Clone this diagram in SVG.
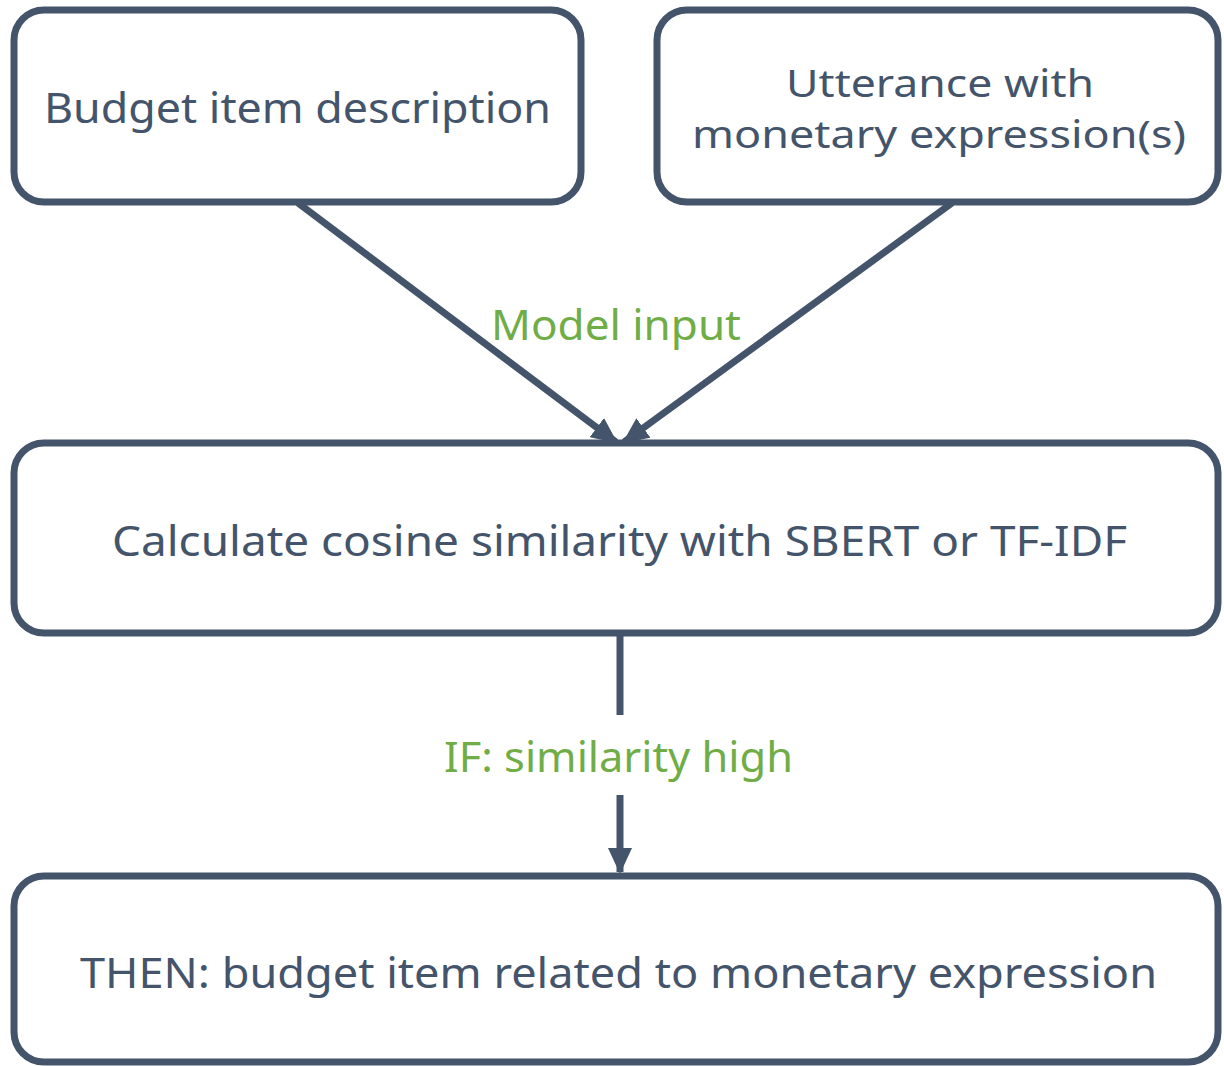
<svg xmlns="http://www.w3.org/2000/svg" width="1224" height="1066" viewBox="0 0 1224 1066">
<defs>
<style>
.box{fill:#fff;stroke:#44546a;stroke-width:7}
.t{font-family:"Noto Sans","Liberation Sans",sans-serif;font-size:41px;fill:#44546a}
.u{font-family:"Noto Sans","Liberation Sans",sans-serif;font-size:39px;fill:#44546a}
.g{font-family:"Noto Sans","Liberation Sans",sans-serif;font-size:41px;fill:#70ad47}
.c{stroke:#44546a;stroke-width:7;fill:none}
</style>
<marker id="ah" markerUnits="userSpaceOnUse" markerWidth="26" markerHeight="24" refX="24" refY="12" orient="auto" viewBox="0 0 26 24">
<path d="M0,0 L26,12 L0,24 Z" fill="#44546a"/>
</marker>
</defs>
<rect width="1224" height="1066" fill="#fff"/>
<g id="connectors">
<line class="c" x1="298" y1="203" x2="616" y2="442" marker-end="url(#ah)"/>
<line class="c" x1="952" y1="203" x2="624" y2="442" marker-end="url(#ah)"/>
<line class="c" x1="620" y1="633" x2="620" y2="715"/>
<line class="c" x1="620" y1="795" x2="620" y2="872" marker-end="url(#ah)"/>
<text class="g" x="491" y="340" textLength="250" lengthAdjust="spacingAndGlyphs">Model input</text>
<text class="g" x="444" y="772" textLength="349" lengthAdjust="spacingAndGlyphs">IF: similarity high</text>
</g>
<g id="node1">
<rect class="box" x="14" y="10" width="567" height="192" rx="30"/>
<text class="t" x="44" y="123" textLength="507" lengthAdjust="spacingAndGlyphs">Budget item description</text>
</g>
<g id="node2">
<rect class="box" x="657" y="10" width="561" height="192" rx="30"/>
<text class="u" x="786" y="97" textLength="308" lengthAdjust="spacingAndGlyphs">Utterance with</text>
<text class="u" x="692" y="148" textLength="494" lengthAdjust="spacingAndGlyphs">monetary expression(s)</text>
</g>
<g id="node3">
<rect class="box" x="14" y="443" width="1204" height="190" rx="30"/>
<text class="t" x="112" y="556" textLength="1015" lengthAdjust="spacingAndGlyphs">Calculate cosine similarity with SBERT or TF-IDF</text>
</g>
<g id="node4">
<rect class="box" x="14" y="876" width="1204" height="186" rx="30"/>
<text class="t" x="80" y="988" textLength="1077" lengthAdjust="spacingAndGlyphs">THEN: budget item related to monetary expression</text>
</g>
</svg>
